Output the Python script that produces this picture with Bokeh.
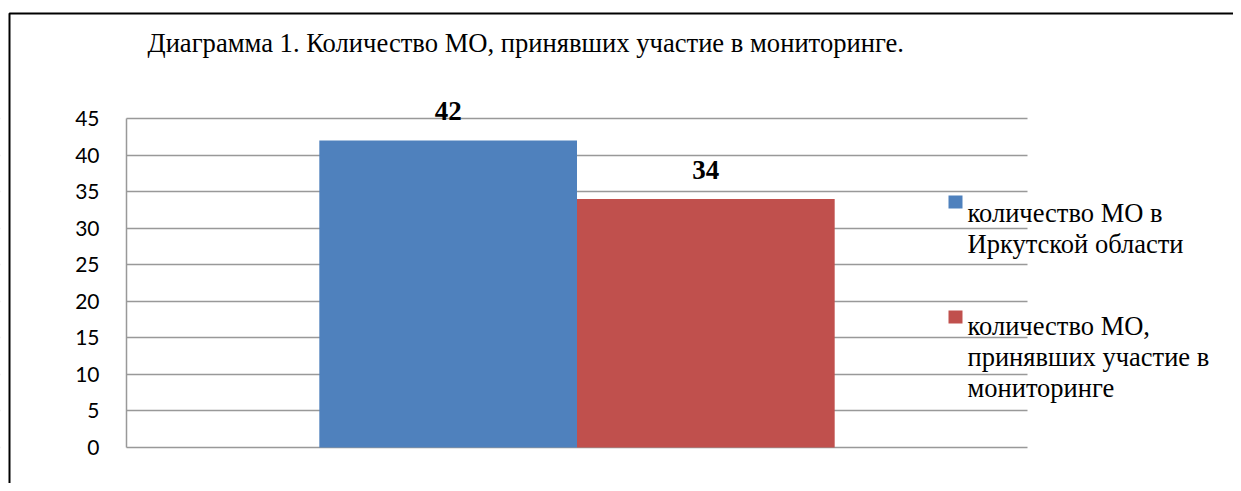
from bokeh.plotting import figure
from bokeh.models import (ColumnDataSource, Range1d, FixedTicker, LabelSet, Label,
                          BoxAnnotation, PolyAnnotation, LinearAxis, Grid)
from bokeh.core.properties import value
from bokeh.embed import file_html
from bokeh.resources import INLINE

# ---- data ----
title_text = "Диаграмма 1. Количество МО, принявших участие в мониторинге."
series_names = ["количество МО в Иркутской области",
                "количество МО, принявших участие в мониторинге"]
legend_lines = [["количество МО в", "Иркутской области"],
                ["количество МО,", "принявших участие в", "мониторинге"]]
values = [42, 34]
colors = ["#4F81BD", "#C0504D"]
y_ticks = [0, 5, 10, 15, 20, 25, 30, 35, 40, 45]
y_min, y_max = 0, 45

# ---- layout (pixels) ----
W, H = 1233, 483
PL, PR, PT, PB = 126, 1027, 118, 447      # plot area in canvas pixels
kx = (PR - PL) / 1.0                      # px per category-unit
ky = (PB - PT) / (y_max - y_min)          # px per value-unit
x_range = Range1d(-PL / kx, (W - PL) / kx)
y_range = Range1d(y_min - (H - PB) / ky, y_max + PT / ky)

p = figure(width=W, height=H, output_backend="svg", toolbar_location=None,
           x_range=x_range, y_range=y_range,
           x_axis_location=None, y_axis_location=None,
           min_border=0)
p.outline_line_color = None
p.background_fill_color = "white"
p.border_fill_color = "white"
p.xgrid.visible = False
p.ygrid.visible = False

# horizontal grid lines
grid = Grid(dimension=1, ticker=FixedTicker(ticks=y_ticks),
            grid_line_color="#999999", grid_line_width=1.5)
p.add_layout(grid)
# keep grid lines within the plot area
for l, r in [(-10, PL), (PR, W + 10)]:
    p.add_layout(BoxAnnotation(left=l, right=r, bottom=-10, top=H + 10,
                               left_units="screen", right_units="screen",
                               top_units="screen", bottom_units="screen",
                               fill_color="white", fill_alpha=1, line_color=None,
                               level="underlay"))

# y axis
ax = LinearAxis(ticker=FixedTicker(ticks=y_ticks), fixed_location=0, bounds=(y_min, y_max))
ax.axis_line_color = "#999999"
ax.axis_line_width = 1.5
ax.major_tick_line_color = None
ax.minor_tick_line_color = None
ax.major_tick_out = 0
ax.major_tick_in = 0
ax.major_label_standoff = 27
ax.major_label_text_font = "Lato"
ax.major_label_text_font_size = "21px"
ax.major_label_text_color = "black"
p.add_layout(ax, "left")

# bars
centers = [0.5 - 0.143, 0.5 + 0.143]
src = ColumnDataSource(dict(x=centers, top=values, color=colors,
                            name=series_names, lab=[str(v) for v in values]))
p.vbar(x="x", top="top", width=0.286, source=src, fill_color="color", line_color=None)
p.add_layout(LabelSet(x="x", y="top", text="lab", source=src, text_align="center",
                      text_baseline="alphabetic", y_offset=20,
                      text_font=value("Liberation Serif"), text_font_style="bold",
                      text_font_size="27px", text_color="black"))

def sy(py):
    return H - py

# outer border (top + left)
p.add_layout(PolyAnnotation(xs=[9, 3000, 3000, 9], ys=[sy(13), sy(13), -2000, -2000],
                            xs_units="screen", ys_units="screen",
                            fill_alpha=0, line_color="black", line_alpha=1,
                            line_width=2))

# title
p.add_layout(Label(x=147, y=sy(42), x_units="screen", y_units="screen",
                   text=title_text, text_font="Liberation Serif", text_font_size="26.6px",
                   text_baseline="alphabetic", text_color="black"))

# legend
sq_box = [(195, 208), (310, 323)]
line_base = [[212, 243], [325, 356, 387]]
for i in range(2):
    p.add_layout(BoxAnnotation(left=948, right=962, top=sy(sq_box[i][0]),
                               bottom=sy(sq_box[i][1]), left_units="screen",
                               right_units="screen", top_units="screen",
                               bottom_units="screen", fill_color=colors[i],
                               fill_alpha=1, line_color=None))
    for j, t in enumerate(legend_lines[i]):
        p.add_layout(Label(x=967, y=sy(line_base[i][j]), x_units="screen",
                           y_units="screen", text=t, text_font="Liberation Serif",
                           text_font_size="26.5px", text_baseline="alphabetic",
                           text_color="black"))

open("out.html", "w").write(file_html(p, INLINE))
